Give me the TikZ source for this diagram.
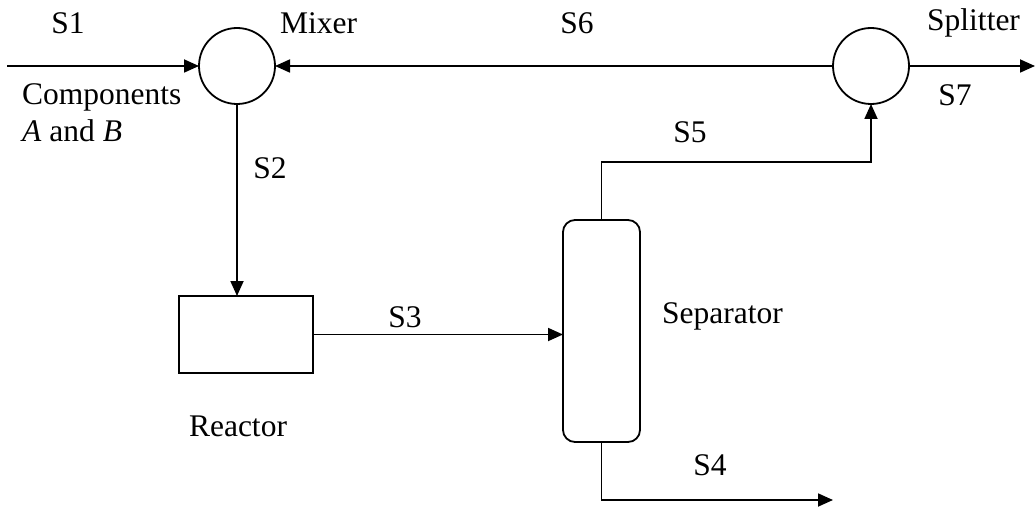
\documentclass[tikz,border=0pt]{standalone}
\usepackage{fontspec}
\setmainfont{Liberation Serif}
\usetikzlibrary{arrows.meta}
\begin{document}
\begin{tikzpicture}[x=1pt,y=-1pt,
  every node/.style={font=\fontsize{31.5}{36}\selectfont, inner sep=0pt},
  unit/.style={draw, line width=1.8pt, outer sep=0pt},
  mixbox/.style={unit, circle, minimum size=76pt},
  flow/.style={line width=1.8pt, -{Triangle[length=15pt,width=13pt]}},
  plain/.style={line width=1.8pt}]
\useasboundingbox (0,0) rectangle (1035,508);
% units
\node[mixbox] (mixer) at (237,66) {};
\node[mixbox] (splitter) at (871,66) {};
\node[unit, rectangle, minimum width=134pt, minimum height=77pt] (reactor) at (246,334.5) {};
\node[unit, rectangle, rounded corners=12pt, minimum width=77pt, minimum height=222pt] (sep) at (601.5,331) {};
% free ends
\coordinate (s1start) at (7,66);
\coordinate (s7end) at (1035,66);
\coordinate (s5corner) at (601.5,162);
\coordinate (s4corner) at (601.5,500);
\coordinate (s4end) at (833,500);
% streams
\draw[flow] (s1start) -- (mixer.west);
\draw[flow] (splitter.west) -- (mixer.east);
\draw[flow] (splitter.east) -- (s7end);
\draw[flow] (mixer.south) -- (mixer.south |- reactor.north);
\draw[flow] (reactor.east) -- (sep.west |- reactor.east);
\draw[flow] (sep.north) -- (s5corner) -| (splitter.south);
\draw[flow] (sep.south) -- (s4corner) -- (s4end);
% labels
\node (lS1) at (68,23) {S1};
\node[anchor=west] (lmixer) at (280,23) {Mixer};
\node (lS6) at (577,23) {S6};
\node[anchor=west] (lsplit) at (927,23) {Splitter};
\node (lS7) at (955,95) {S7};
\node[anchor=west] (lcomp) at (22,97) {Components};
\node[anchor=west] (lab) at (22,131) {\textit{A} and \textit{B}};
\node (lS2) at (270,168) {S2};
\node (lS5) at (690,132) {S5};
\node (lS3) at (405,317) {S3};
\node[anchor=west] (lsep) at (662,316) {Separator};
\node (lreact) at (238,426) {Reactor};
\node (lS4) at (710,465) {S4};
\end{tikzpicture}
\end{document}
